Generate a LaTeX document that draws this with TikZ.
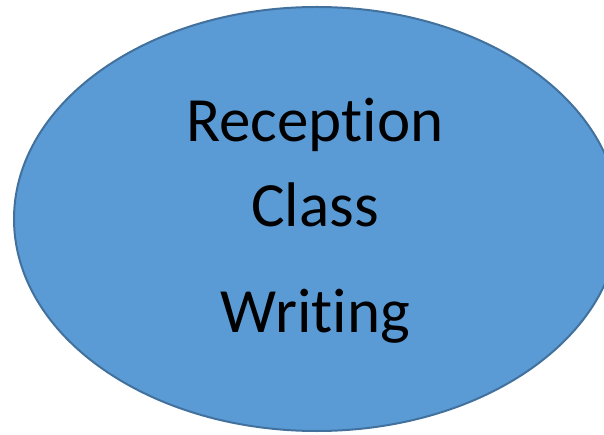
\documentclass[tikz,border=0pt]{standalone}
\usepackage{fontspec}
\setmainfont[Ligatures=NoCommon]{Carlito}
\definecolor{bubblefill}{HTML}{5B9BD5}
\definecolor{bubbleline}{HTML}{41719C}
\tikzset{
  bubble/.style={fill=bubblefill,draw=bubbleline,line width=2pt},
  word/.style={anchor=base,inner sep=0pt,font=\fontsize{63}{63}\selectfont}
}
\begin{document}
\begin{tikzpicture}[x=1pt,y=-1pt]
      \useasboundingbox (0,0) rectangle (604,435);
      \draw[bubble] (316.7,219) ellipse [x radius=302.7, y radius=212];
      \draw
        (314.7,141.7) node[word] (reception){Reception}
        (315,226.7) node[word] (class){Class}
        (315.4,332.7) node[word] (writing){Writing};
    \end{tikzpicture}
\end{document}
